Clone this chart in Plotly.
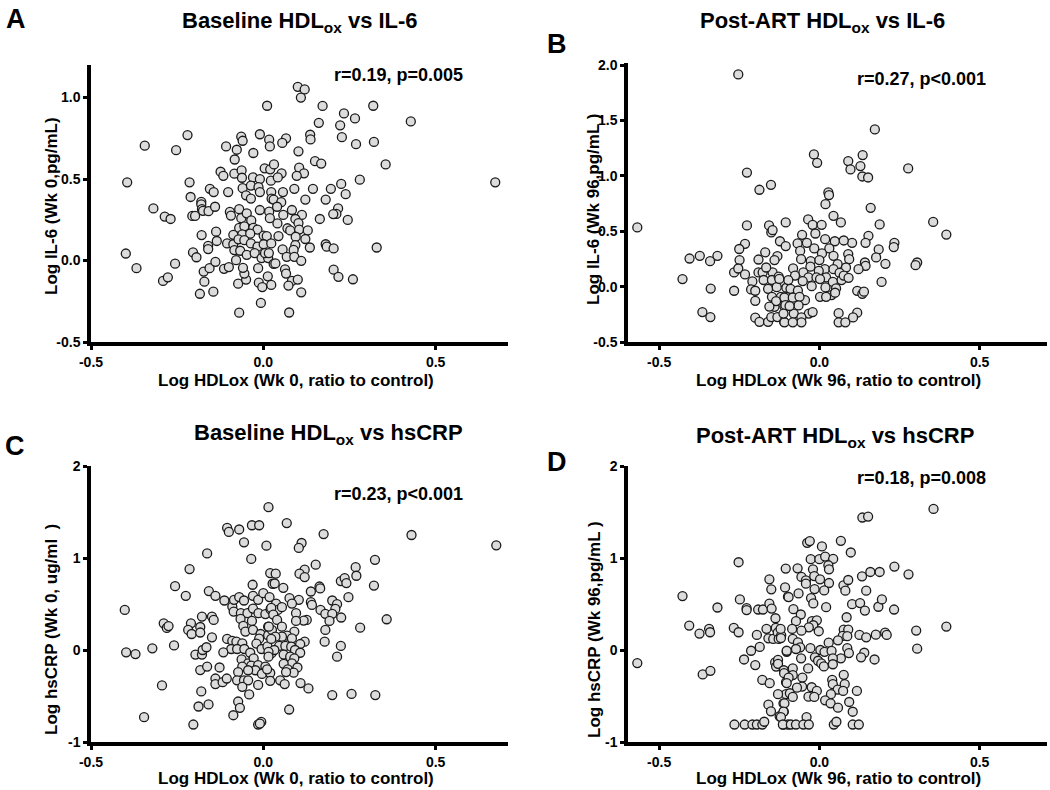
import plotly.graph_objects as go

# ---------------- data ----------------
a_pts = [
(0.011,0.95),(-0.22,0.77),(-0.344,0.705),(-0.253,0.677),(-0.395,0.48),(-0.214,0.48),(-0.319,0.32),
(-0.286,0.27),(-0.269,0.255),(-0.399,0.043),(-0.368,-0.047),(-0.256,-0.019),(-0.291,-0.125),(-0.277,-0.103),
(-0.184,-0.204),(-0.145,-0.191),(-0.171,-0.13),(-0.173,-0.068),(-0.156,-0.047),(-0.139,-0.008),(-0.114,-0.051),
(-0.1,-0.04),(-0.07,-0.32),(-0.007,-0.26),(-0.073,-0.142),(-0.013,-0.136),(0.013,-0.097),(0.023,-0.15),
(-0.003,-0.163),(-0.05,-0.117),(-0.055,-0.08),(-0.059,-0.045),(-0.015,-0.047),(-0.204,0.05),(-0.194,0.02),
(-0.179,0.156),(-0.16,0.09),(-0.16,0.07),(-0.137,0.177),(-0.135,0.12),(-0.105,0.105),(-0.211,0.39),
(-0.18,0.36),(-0.18,0.345),(-0.178,0.315),(-0.175,0.305),(-0.206,0.274),(-0.198,0.274),(-0.159,0.303),
(-0.14,0.33),(-0.155,0.44),(-0.144,0.42),(-0.102,0.42),(-0.124,0.545),(-0.116,0.52),(-0.084,0.533),
(-0.108,0.70),(-0.077,0.68),(-0.083,0.62),(-0.064,0.76),(-0.06,0.735),(-0.029,0.66),(-0.01,0.775),
(0.017,0.742),(0.019,0.70),(0.004,0.566),(0.02,0.56),(-0.063,0.553),(-0.062,0.508),(-0.03,0.51),
(-0.01,0.50),(0.022,0.49),(-0.06,0.444),(-0.036,0.46),(-0.014,0.45),(-0.01,0.42),(-0.05,0.40),
(-0.036,0.38),(0.023,0.42),(-0.097,0.298),(-0.094,0.276),(-0.07,0.315),(-0.064,0.26),(-0.048,0.29),
(-0.035,0.246),(-0.01,0.31),(0.017,0.30),(0.019,0.26),(0.024,0.38),(-0.07,0.2),(-0.055,0.21),
(-0.029,0.20),(-0.017,0.19),(-0.087,0.158),(-0.061,0.16),(-0.038,0.165),(0.001,0.153),(0.01,0.15),
(-0.087,0.1),(-0.072,0.13),(-0.055,0.125),(-0.036,0.105),(-0.017,0.085),(0.001,0.1),(0.023,0.105),
(-0.084,0.064),(-0.067,0.06),(-0.048,0.035),(-0.025,0.045),(-0.005,0.015),(0.014,0.015),(0.005,0.045),
(0.03,-0.02),(-0.079,0.002),
(0.1,1.066),(0.12,1.05),(0.109,1.0),(0.172,0.949),(0.319,0.95),(0.234,0.903),(0.266,0.872),(0.161,0.845),
(0.223,0.83),(0.428,0.854),(0.136,0.772),(0.137,0.743),(0.228,0.757),(0.269,0.714),(0.321,0.728),
(0.066,0.75),(0.055,0.722),(0.102,0.67),(0.15,0.61),(0.168,0.595),(0.355,0.59),(0.673,0.48),(0.28,0.496),
(0.031,0.59),(0.104,0.57),(0.118,0.535),(0.097,0.52),(0.053,0.535),(0.042,0.51),(0.226,0.47),(0.196,0.44),
(0.144,0.44),(0.09,0.44),(0.057,0.42),(0.239,0.407),(0.181,0.374),(0.122,0.374),(0.03,0.374),(0.052,0.358),
(0.04,0.33),(0.083,0.31),(0.217,0.32),(0.212,0.286),(0.203,0.285),(0.245,0.249),(0.164,0.255),(0.112,0.28),
(0.093,0.255),(0.058,0.28),(0.041,0.228),(0.102,0.23),(0.07,0.198),(0.078,0.185),(0.104,0.19),(0.129,0.185),
(0.094,0.146),(0.122,0.132),(0.044,0.15),(0.181,0.10),(0.184,0.085),(0.204,0.074),(0.135,0.08),(0.093,0.095),
(0.329,0.08),(0.056,0.068),(0.088,0.065),(0.068,0.023),(0.09,0.023),(0.11,-0.002),(0.035,-0.018),(0.016,0.046),
(0.204,-0.056),(0.218,-0.1),(0.26,-0.115),(0.063,-0.054),(0.066,-0.08),(0.083,-0.125),(0.1,-0.117),
(0.073,-0.154),(0.11,-0.195),(0.075,-0.319),
]

b_pts = [
(-0.253,1.917),(-0.226,1.03),(-0.187,0.875),(-0.151,0.92),(-0.568,0.535),(-0.226,0.553),(-0.157,0.553),
(-0.15,0.49),(-0.146,0.51),(-0.105,0.58),(-0.232,0.387),(-0.25,0.34),(-0.249,0.24),(-0.123,0.41),
(-0.105,0.366),(-0.169,0.31),(-0.131,0.275),(-0.14,0.24),(-0.19,0.245),(-0.405,0.254),(-0.373,0.278),
(-0.318,0.278),(-0.341,0.23),(-0.427,0.068),(-0.339,-0.017),(-0.365,-0.23),(-0.34,-0.275),(-0.266,-0.037),
(-0.266,0.128),(-0.253,0.164),(-0.232,0.11),(-0.209,0.047),(-0.213,-0.025),(-0.2,-0.037),(-0.2,-0.128),
(-0.2,-0.28),(-0.187,-0.318),(-0.16,-0.318),(-0.15,-0.275),(-0.131,-0.275),(-0.11,-0.318),(-0.19,0.128),
(-0.177,0.128),(-0.174,0.06),(-0.146,0.128),(-0.148,0.06),(-0.16,-0.02),(-0.148,-0.092),(-0.14,-0.182),
(-0.12,-0.092),(-0.135,-0.13),(-0.127,0.09),(-0.116,0.04),(-0.103,-0.01),(-0.133,-0.005),(-0.166,0.173),
(-0.109,-0.18),(-0.156,-0.18),
(0.173,1.42),(-0.017,1.194),(-0.007,1.118),(0.09,1.134),(0.097,1.059),(0.135,1.188),(0.128,1.089),
(0.134,0.995),(0.152,0.986),(0.277,1.068),(0.028,0.851),(0.03,0.827),(0.019,0.745),(0.16,0.712),
(0.044,0.64),(0.067,0.58),(0.355,0.585),(0.396,0.47),(0.188,0.562),(-0.035,0.607),(-0.021,0.558),
(0.007,0.558),(-0.054,0.468),(-0.0125,0.48),(0.153,0.459),(0.144,0.396),(0.102,0.396),(0.076,0.417),
(0.234,0.396),(0.232,0.357),(0.048,0.41),(0.018,0.429),(-0.068,0.39),(-0.039,0.396),(-0.016,0.345),
(0.031,0.345),(-0.06,0.323),(0.008,0.30),(0.185,0.336),(0.09,0.294),(0.177,0.264),(0.093,0.248),
(0.044,0.278),(-0.027,0.23),(0.0,0.24),(-0.057,0.248),(0.305,0.218),(0.3,0.194),(0.206,0.206),
(0.142,0.218),(0.144,0.188),(-0.082,0.165),(-0.028,0.18),(0.057,0.203),(0.083,0.173),(0.122,0.158),
(0.017,0.158),(0.044,0.158),(0.063,0.125),(-0.002,0.143),(-0.05,0.128),(-0.076,0.1),(-0.034,0.083),
(-0.009,0.083),(0.021,0.083),(0.069,0.059),(0.076,0.1),(0.091,0.08),(0.042,0.043),(0.002,0.068),
(-0.052,0.05),(-0.097,0.059),(-0.125,0.07),(0.194,0.043),(-0.024,0.004),(0.019,-0.007),(-0.09,-0.02),
(-0.067,-0.035),(0.118,-0.038),(0.134,-0.065),(0.139,-0.045),(0.052,-0.016),(0.038,-0.076),(0.049,-0.055),
(0.002,-0.092),(0.021,-0.092),(-0.045,-0.122),(-0.109,-0.098),(-0.083,-0.1),(-0.062,-0.092),(-0.106,-0.167),
(-0.065,-0.17),(-0.08,-0.243),(-0.033,-0.243),(-0.021,-0.23),(-0.056,-0.278),(0.06,-0.24),(0.118,-0.235),
(0.105,-0.278),(0.06,-0.322),(0.081,-0.322),(-0.056,-0.322),(-0.109,-0.322),(-0.083,-0.322),(-0.112,-0.243),
(-0.093,-0.175),
]

c_pts = [
(0.015,1.552),(-0.105,1.327),(-0.1,1.283),(-0.07,1.31),(-0.033,1.356),(-0.012,1.356),(-0.056,1.17),
(0.009,1.134),(-0.035,0.99),(-0.163,1.05),(-0.214,0.88),(-0.256,0.694),(-0.225,0.589),(-0.402,0.436),
(-0.158,0.64),(-0.139,0.589),(-0.113,0.538),(-0.09,0.472),(-0.085,0.545),(-0.07,0.575),(-0.056,0.538),
(-0.03,0.589),(-0.015,0.545),(0.0,0.618),(0.018,0.575),(-0.031,0.709),(0.02,0.836),(0.027,0.72),
(-0.086,0.418),(-0.065,0.4),(-0.046,0.4),(-0.03,0.45),(-0.014,0.4),(0.006,0.39),(0.021,0.443),
(-0.066,0.338),(-0.033,0.316),(0.014,0.254),(-0.178,0.363),(-0.149,0.363),(-0.144,0.327),(-0.289,0.29),
(-0.28,0.24),(-0.275,0.26),(-0.21,0.29),(-0.218,0.218),(-0.183,0.25),(-0.208,0.174),(-0.183,0.19),
(-0.149,0.138),(-0.058,0.262),(-0.052,0.2),(-0.03,0.218),(-0.008,0.174),(-0.012,0.123),(0.014,0.16),
(0.025,0.218),(-0.105,0.12),(-0.09,0.1),(-0.078,0.09),(-0.061,0.073),(-0.093,0.011),(-0.076,0.011),
(-0.055,0.011),(-0.038,-0.03),(-0.02,0.07),(-0.005,0.011),(0.012,0.04),(0.024,-0.035),(-0.322,0.018),
(-0.259,0.05),(-0.398,-0.025),(-0.371,-0.044),(-0.197,-0.05),(-0.178,-0.05),(-0.176,0.0),(-0.165,0.03),
(-0.116,-0.025),(-0.063,-0.102),(-0.044,-0.146),(-0.028,-0.09),(-0.061,-0.18),(-0.035,-0.17),(-0.015,-0.165),
(0.006,-0.18),(0.011,-0.236),(-0.023,-0.22),(-0.004,-0.26),(0.02,-0.25),(-0.183,-0.218),(-0.163,-0.18),
(-0.127,-0.19),(-0.073,-0.24),(-0.044,-0.22),(-0.139,-0.31),(-0.139,-0.37),(-0.118,-0.35),(-0.106,-0.31),
(-0.076,-0.33),(-0.056,-0.33),(-0.044,-0.33),(-0.061,-0.4),(-0.041,-0.483),(-0.015,-0.38),(-0.294,-0.385),
(-0.18,-0.45),(-0.188,-0.614),(-0.159,-0.592),(-0.073,-0.56),(-0.068,-0.629),(-0.087,-0.709),(-0.346,-0.73),
(-0.203,-0.81),(-0.015,-0.81),(-0.006,-0.782),(-0.01,-0.8),
(0.068,1.38),(0.175,1.26),(0.43,1.25),(0.676,1.138),(0.111,1.163),(0.103,1.109),(0.152,0.927),(0.324,0.98),
(0.268,0.9),(0.27,0.807),(0.321,0.7),(0.036,0.83),(0.12,0.873),(0.105,0.83),(0.12,0.793),(0.033,0.723),
(0.058,0.676),(0.225,0.749),(0.236,0.782),(0.241,0.727),(0.163,0.69),(0.165,0.669),(0.138,0.636),
(0.247,0.574),(0.076,0.563),(0.103,0.545),(0.083,0.505),(0.037,0.505),(0.138,0.52),(0.141,0.49),(0.2,0.538),
(0.214,0.498),(0.209,0.447),(0.166,0.436),(0.18,0.393),(0.2,0.393),(0.226,0.353),(0.192,0.316),(0.358,0.334),
(0.281,0.243),(0.18,0.218),(0.178,0.09),(0.225,0.044),(0.214,-0.073),(0.12,0.09),(0.107,0.065),(0.126,0.327),
(0.117,0.32),(0.095,0.4),(0.095,0.316),(0.042,0.436),(0.054,0.465),(0.023,0.457),(0.029,0.385),(0.04,0.327),
(0.054,0.254),(0.016,0.254),(0.09,0.2),(0.069,0.156),(0.083,0.127),(0.054,0.145),(0.035,0.145),(0.023,0.12),
(0.046,0.044),(0.064,0.044),(0.081,0.036),(0.092,0.0),(0.107,-0.03),(0.032,0.0),(0.015,-0.02),(0.015,-0.073),
(0.059,-0.05),(0.078,-0.073),(0.09,-0.09),(0.083,-0.145),(0.099,-0.19),(0.059,-0.15),(0.071,-0.21),
(0.088,-0.247),(0.066,-0.24),(0.011,-0.21),(0.02,-0.335),(0.049,-0.33),(0.062,-0.37),(0.108,-0.36),
(0.131,-0.418),(0.2,-0.49),(0.256,-0.477),(0.325,-0.49),(0.075,-0.647),
]

d_pts = [
(-0.568,-0.142),(-0.427,0.586),(-0.406,0.266),(-0.374,0.178),(-0.344,0.23),(-0.341,0.193),(-0.318,0.462),
(-0.364,-0.266),(-0.34,-0.226),(-0.252,0.954),(-0.248,0.55),(-0.267,0.24),(-0.252,0.193),(-0.227,0.455),
(-0.227,0.434),(-0.235,-0.103),(-0.213,-0.008),(-0.2,-0.164),(-0.195,0.164),(-0.186,0.033),(-0.191,0.44),
(-0.176,0.44),(-0.178,-0.325),(-0.155,-0.361),(-0.156,0.768),(-0.15,0.659),(-0.156,0.503),(-0.149,0.45),
(-0.137,0.345),(-0.165,0.23),(-0.159,0.127),(-0.144,0.12),(-0.136,0.24),(-0.13,0.19),(-0.127,0.12),
(-0.119,0.16),(-0.138,-0.135),(-0.129,-0.107),(-0.135,-0.18),(-0.129,-0.15),(-0.111,-0.22),(-0.105,0.885),
(-0.107,0.68),(-0.098,0.58),(-0.102,-0.02),(-0.104,-0.35),(-0.104,-0.48),(-0.129,-0.48),(-0.159,-0.594),
(-0.151,-0.667),(-0.112,-0.58),(-0.111,-0.67),(-0.124,-0.72),(-0.265,-0.81),(-0.233,-0.81),(-0.209,-0.81),
(-0.195,-0.81),(-0.178,-0.81),(-0.172,-0.78),(-0.113,-0.81),(-0.098,-0.81),
(0.356,1.533),(0.134,1.44),(0.152,1.45),(-0.038,1.165),(-0.03,1.184),(0.008,1.126),(0.067,1.187),(0.098,1.06),
(-0.027,0.987),(0.0,0.987),(0.018,1.016),(0.043,0.99),(0.028,0.921),(0.03,0.877),(-0.068,0.888),(-0.02,0.877),
(-0.056,0.794),(-0.042,0.757),(-0.042,0.721),(-0.016,0.804),(0.002,0.768),(0.03,0.728),(-0.015,0.662),
(0.015,0.648),(0.075,0.703),(0.09,0.761),(0.081,0.645),(0.133,0.801),(0.159,0.848),(0.188,0.848),(0.234,0.907),
(0.278,0.823),(0.146,0.645),(-0.096,0.575),(-0.065,0.615),(-0.026,0.564),(-0.019,0.506),(0.021,0.466),
(-0.081,0.444),(-0.058,0.386),(0.102,0.498),(0.127,0.51),(0.142,0.429),(0.184,0.47),(0.195,0.55),(0.233,0.44),
(0.085,0.356),(-0.073,0.313),(-0.023,0.313),(-0.008,0.323),(-0.019,0.269),(-0.033,0.247),(-0.002,0.204),
(-0.085,0.229),(-0.056,0.21),(-0.121,0.229),(0.076,0.222),(0.09,0.222),(0.073,0.153),(0.058,0.105),(0.087,0.15),
(0.125,0.164),(0.146,0.138),(0.176,0.167),(0.205,0.189),(0.21,0.164),(0.302,0.211),(0.396,0.255),(0.305,0.014),
(-0.083,0.12),(-0.12,0.13),(-0.067,0.083),(-0.06,0.029),(-0.073,0.011),(-0.102,-0.008),(-0.028,0.02),
(0.003,0.0),(0.016,-0.02),(0.029,0.08),(0.038,-0.01),(0.087,0.02),(0.092,-0.033),(0.14,-0.03),(0.13,-0.08),
(0.172,-0.103),(0.067,-0.09),(0.042,-0.09),(-0.014,-0.08),(-0.004,-0.117),(0.006,-0.146),(0.014,-0.179),
(0.042,-0.155),(-0.057,-0.09),(-0.035,-0.2),(-0.083,-0.2),(-0.11,-0.252),(-0.083,-0.273),(-0.096,-0.3),
(-0.053,-0.3),(0.076,-0.27),(0.04,-0.325),(0.079,-0.372),(0.042,-0.372),(-0.102,-0.36),(-0.054,-0.398),
(-0.07,-0.41),(-0.024,-0.405),(-0.008,-0.445),(0.057,-0.43),(0.074,-0.445),(0.117,-0.445),(-0.092,-0.47),
(-0.034,-0.507),(-0.016,-0.51),(-0.083,-0.51),(0.036,-0.48),(0.018,-0.547),(0.035,-0.58),(0.058,-0.627),
(0.093,-0.565),(0.104,-0.671),(-0.109,-0.58),(-0.112,-0.67),(-0.04,-0.729),(-0.12,-0.729),(-0.114,-0.81),
(-0.089,-0.81),(-0.073,-0.81),(-0.05,-0.81),(-0.033,-0.81),(0.045,-0.81),(0.053,-0.78),(0.104,-0.81),
(0.123,-0.81),
]

panel_letters = ["A", "B", "C", "D"]
panel_titles = ["Baseline HDL<sub>ox</sub> vs IL-6", "Post-ART HDL<sub>ox</sub> vs IL-6",
                "Baseline HDL<sub>ox</sub> vs hsCRP", "Post-ART HDL<sub>ox</sub> vs hsCRP"]
stats_text = ["r=0.19, p=0.005", "r=0.27, p<0.001", "r=0.23, p<0.001", "r=0.18, p=0.008"]
x_titles = ["Log HDLox (Wk 0, ratio to control)", "Log HDLox (Wk 96, ratio to control)",
            "Log HDLox (Wk 0, ratio to control)", "Log HDLox (Wk 96, ratio to control)"]
y_titles = ["Log IL-6 (Wk 0,pg/mL)", "Log IL-6 (Wk 96,pg/mL )",
            "Log hsCRP (Wk 0, ug/ml  )", "Log hsCRP (Wk 96,pg/mL )"]
x_tickvals = [-0.5, 0.0, 0.5]
x_ticktext = ["-0.5", "0.0", "0.5"]
yA_tickvals = [-0.5, 0.0, 0.5, 1.0]
yA_ticktext = ["-0.5", "0.0", "0.5", "1.0"]
yB_tickvals = [-0.5, 0.0, 0.5, 1.0, 1.5, 2.0]
yB_ticktext = ["-0.5", "0.0", "0.5", "1.0", "1.5", "2.0"]
yCD_tickvals = [-1, 0, 1, 2]
yCD_ticktext = ["-1", "0", "1", "2"]

# ---------------- figure ----------------
W, H = 1050, 790
FONT = "Liberation Sans"

def px(x):
    return x / W

def py(y):
    return 1 - y / H

fig = go.Figure()
all_pts = [a_pts, b_pts, c_pts, d_pts]
for i, pts in enumerate(all_pts):
    sfx = "" if i == 0 else str(i + 1)
    fig.add_trace(go.Scatter(
        x=[p[0] for p in pts], y=[p[1] for p in pts], mode="markers",
        xaxis="x" + sfx, yaxis="y" + sfx, showlegend=False, cliponaxis=False,
        marker=dict(size=9, color="#dcdcdc", line=dict(color="#1a1a1a", width=1.3)),
    ))

tickfont = dict(family=FONT, size=14, color="black", weight="bold")

def xax(domain, rng, anchor):
    return dict(domain=domain, range=rng, anchor=anchor, showline=True, linewidth=3.5,
                linecolor="black", ticks="outside", ticklen=4, tickwidth=2.5, tickcolor="black",
                showgrid=False, zeroline=False, tickvals=x_tickvals, ticktext=x_ticktext,
                tickfont=tickfont, fixedrange=True, automargin=False)

def yax(domain, rng, anchor, tv, tt):
    return dict(domain=domain, range=rng, anchor=anchor, showline=True, linewidth=3.5,
                linecolor="black", ticks="outside", ticklen=4, tickwidth=2.5, tickcolor="black",
                showgrid=False, zeroline=False, tickvals=tv, ticktext=tt,
                tickfont=tickfont, fixedrange=True, automargin=False, ticklabelstandoff=0)

dxL = [px(91), px(508)]
dxR = [px(628), px(1047)]
dyT_A = [py(342), py(65)]
dyT_B = [py(342), py(63)]
dyB = [py(742), py(466)]

fig.update_layout(
    width=W, height=H, margin=dict(l=0, r=0, t=0, b=0, autoexpand=False),
    paper_bgcolor="white", plot_bgcolor="white",
    xaxis=xax(dxL, [-0.5, 0.71], "y"),
    yaxis=yax(dyT_A, [-0.5, 1.2], "x", yA_tickvals, yA_ticktext),
    xaxis2=xax(dxR, [-0.597, 0.71], "y2"),
    yaxis2=yax(dyT_B, [-0.5, 2.02], "x2", yB_tickvals, yB_ticktext),
    xaxis3=xax(dxL, [-0.5, 0.71], "y3"),
    yaxis3=yax(dyB, [-1, 2.0], "x3", yCD_tickvals, yCD_ticktext),
    xaxis4=xax(dxR, [-0.597, 0.71], "y4"),
    yaxis4=yax(dyB, [-1, 2.0], "x4", yCD_tickvals, yCD_ticktext),
)

ann = []
def add_text(text, x, y, size, angle=0):
    ann.append(dict(text=text, x=px(x), y=py(y), xref="paper", yref="paper",
                    showarrow=False, xanchor="center", yanchor="middle", textangle=angle,
                    font=dict(family=FONT, size=size, color="black", weight="bold")))

letter_pos = [(16, 19), (557, 44), (15, 446), (557, 462)]
title_pos = [(300, 22), (822, 22), (328, 434), (835, 437)]
stats_pos = [(398, 75), (921, 79), (398, 494), (921, 478)]
xt_pos = [(296, 380), (838, 380), (296, 778), (838, 778)]
yt_pos = [(51, 206), (594, 210), (51, 630), (594, 630)]

for i in range(4):
    add_text(panel_letters[i], *letter_pos[i], 27)
    add_text(panel_titles[i], *title_pos[i], 22)
    add_text(stats_text[i], *stats_pos[i], 18)
    add_text(x_titles[i], *xt_pos[i], 17)
    add_text(y_titles[i], *yt_pos[i], 17, angle=-90)

fig.update_layout(annotations=ann)
fig.write_html("out.html", config={"displayModeBar": False},
               post_script="document.body.style.margin='0px';")
